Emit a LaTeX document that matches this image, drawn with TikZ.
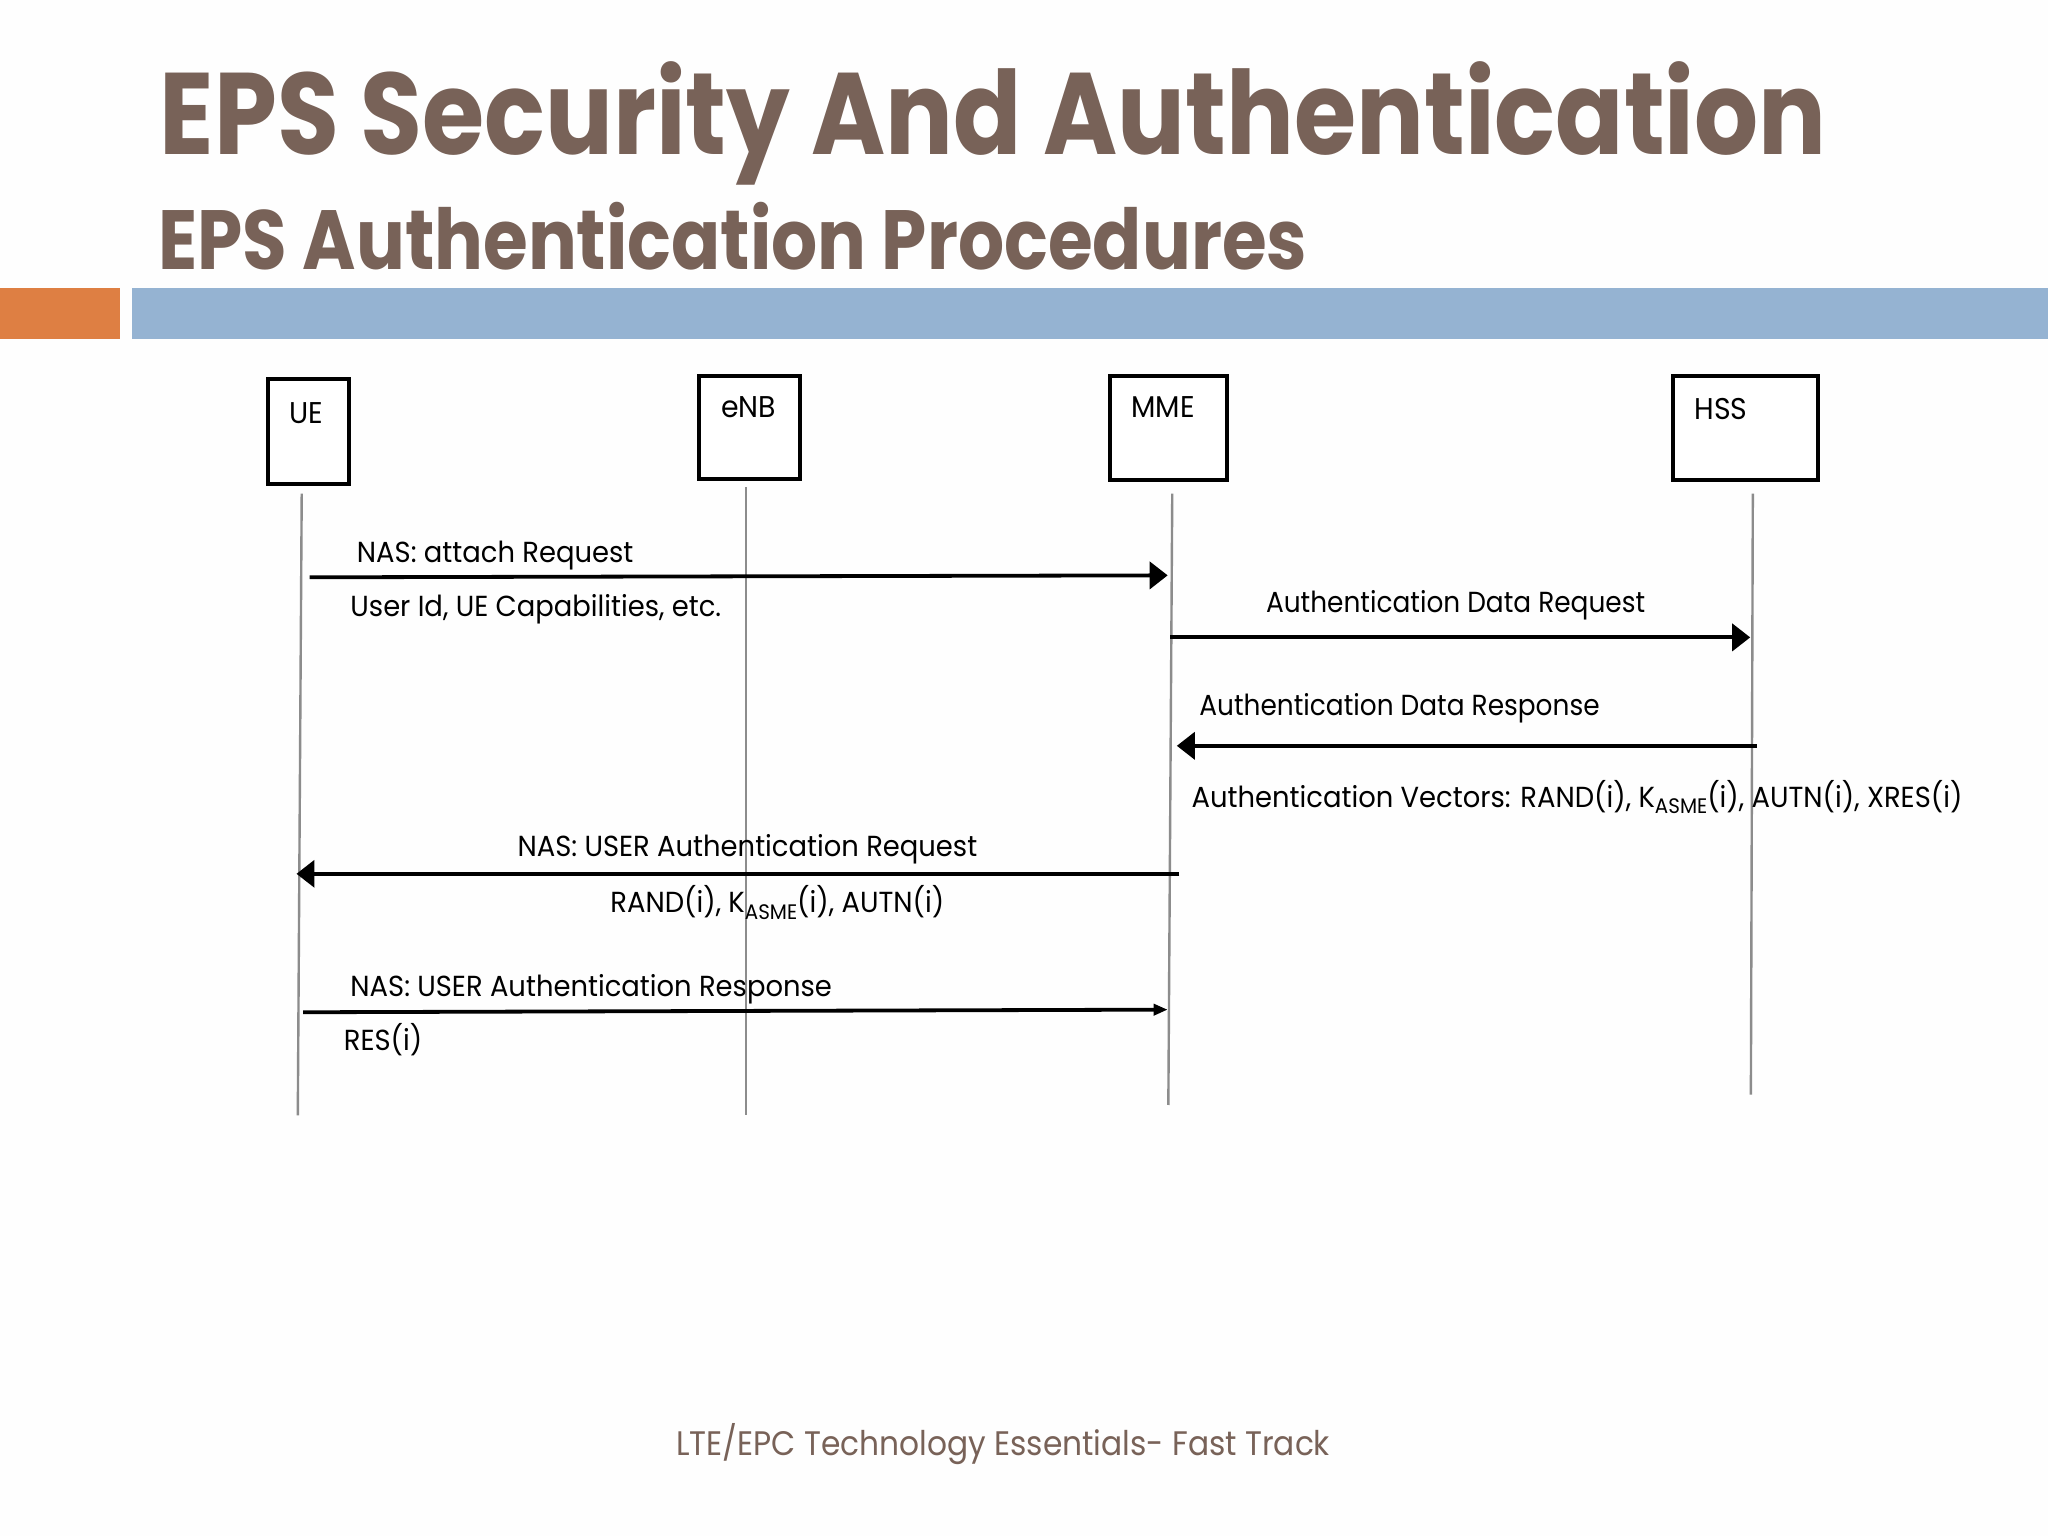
\documentclass[tikz,border=0pt]{standalone}
\usepackage{fontspec}
\usepackage{xcolor}
\usetikzlibrary{
    arrows.meta,
    positioning,
    calc,
}
\newfontfamily\titlefont[FakeStretch=0.868]{Poppins}
\newfontfamily\subtitlefont[FakeStretch=0.863]{Poppins}
\newfontfamily\footerfont[FakeStretch=0.92]{Poppins}
\newfontfamily\bodyfont[FakeStretch=0.945]{Poppins}
\newfontfamily\datafont[FakeStretch=0.91]{Poppins}
\definecolor{titlebrown}{HTML}{786258}
\definecolor{barorange}{HTML}{DE7F43}
\definecolor{barblue}{HTML}{95B3D2}
\newcommand{\asme}{\raisebox{-0.4ex}{\fontsize{10.5}{12}\selectfont ASME}}

\begin{document}
\begin{tikzpicture}[
    x=0.65306pt, y=-0.65306pt,
    unit/.style={draw=black, line width=2pt, fill=white, inner sep=0pt},
    unitname/.style={anchor=base west, inner sep=0pt, font=\bodyfont\fontsize{15}{17}\selectfont, text=black},
    msgtext/.style={anchor=base west, inner sep=0pt, font=\bodyfont\fontsize{14.5}{17}\selectfont, text=black},
    datatext/.style={msgtext, font=\datafont\fontsize{14.5}{17}\selectfont},
    lifeline/.style={draw=black!45, line width=1.2pt},
    msg/.style={draw=black, line width=1.9pt, -{Triangle[length=9pt,width=13.5pt]}},
    msgsmall/.style={draw=black, line width=1.9pt, -{Triangle[length=7pt,width=5.5pt]}},
    bar/.style={inner sep=0pt, minimum height=25.5pt},
]
\useasboundingbox (0,0) rectangle (1568,1176);
\fill[fill=white!99.5!black] (0,0) rectangle (1568,1176);

\node[bar, fill=barorange, anchor=north west, minimum width=60pt] (orangebar) at (0,220) {};
\node[bar, fill=barblue, anchor=north west, minimum width=958pt] (bluebar) at (101,220) {};

\node[anchor=base west, inner sep=0pt, text=titlebrown, font=\titlefont\bfseries\fontsize{58}{66}\selectfont] (title) at (122,118) {EPS Security And Authentication};
\node[anchor=base west, inner sep=0pt, text=titlebrown, font=\subtitlefont\bfseries\fontsize{42}{50}\selectfont] (subtitle) at (121,206) {EPS Authentication Procedures};
\node[anchor=base, inner sep=0pt, text=titlebrown, font=\footerfont\fontsize{17}{20}\selectfont] (footer) at (768,1114) {LTE/EPC Technology Essentials- Fast Track};

\node[unit, anchor=north west, minimum width=40.8pt, minimum height=52.2pt] (ue) at (203.5,289) {};
\node[unit, anchor=north west, minimum width=50.3pt, minimum height=51.6pt] (enb) at (534,286) {};
\node[unit, anchor=north west, minimum width=58.8pt, minimum height=52.2pt] (mme) at (848,286) {};
\node[unit, anchor=north west, minimum width=72.5pt, minimum height=52.2pt] (hss) at (1279,286) {};

\node[unitname] (uename) at (221,324) {UE};
\node[unitname] (enbname) at (552,320) {eNB};
\node[unitname] (mmename) at (866,320) {MME};
\node[unitname] (hssname) at (1297,321) {HSS};

\coordinate (uetop) at (231,378);
\coordinate (uebot) at (228,854);
\coordinate (enbtop) at (571,373);
\coordinate (enbbot) at (571,854);
\coordinate (mmetop) at (897.5,378);
\coordinate (mmebot) at (894.5,846);
\coordinate (hsstop) at (1342,378);
\coordinate (hssbot) at (1340.5,838);

\draw[lifeline] (uetop) -- (uebot);
\draw[lifeline] (enbtop) -- (enbbot);
\draw[lifeline] (mmetop) -- (mmebot);
\draw[lifeline] (hsstop) -- (hssbot);

\coordinate (attachfrom) at (237,442);
\coordinate (attachto) at (894,440.5);
\coordinate (dataregfrom) at (896,488);
\coordinate (dataregto) at (1340,488);
\coordinate (datarespfrom) at (1345,571);
\coordinate (datarespto) at (901,571);
\coordinate (userregfrom) at (903,669);
\coordinate (userregto) at (227,669);
\coordinate (userrespfrom) at (232,775);
\coordinate (userrespto) at (894,773);

\draw[msg] (attachfrom) -- (attachto);
\draw[msg] (dataregfrom) -- (dataregto);
\draw[msg] (datarespfrom) -- (datarespto);
\draw[msg] (userregfrom) -- (userregto);
\draw[msgsmall] (userrespfrom) -- (userrespto);

\node[msgtext] (attachlabel) at (273,431) {NAS: attach Request};
\node[msgtext] (attachinfo) at (268,472) {User Id, UE Capabilities, etc.};
\node[datatext] (datareqlabel) at (969,469) {Authentication Data Request};
\node[datatext] (dataresplabel) at (918,548) {Authentication Data Response};
\node[msgtext] (vectorsinfo) at (912,618) {Authentication Vectors: RAND(i), K\asme(i), AUTN(i), XRES(i)};
\node[msgtext] (userreqlabel) at (396,656) {NAS: USER Authentication Request};
\node[msgtext] (userreqinfo) at (467,699) {RAND(i), K\asme(i), AUTN(i)};
\node[msgtext] (userresplabel) at (268,763) {NAS: USER Authentication Response};
\node[msgtext] (userrespinfo) at (263,804) {RES(i)};

\end{tikzpicture}
\end{document}
